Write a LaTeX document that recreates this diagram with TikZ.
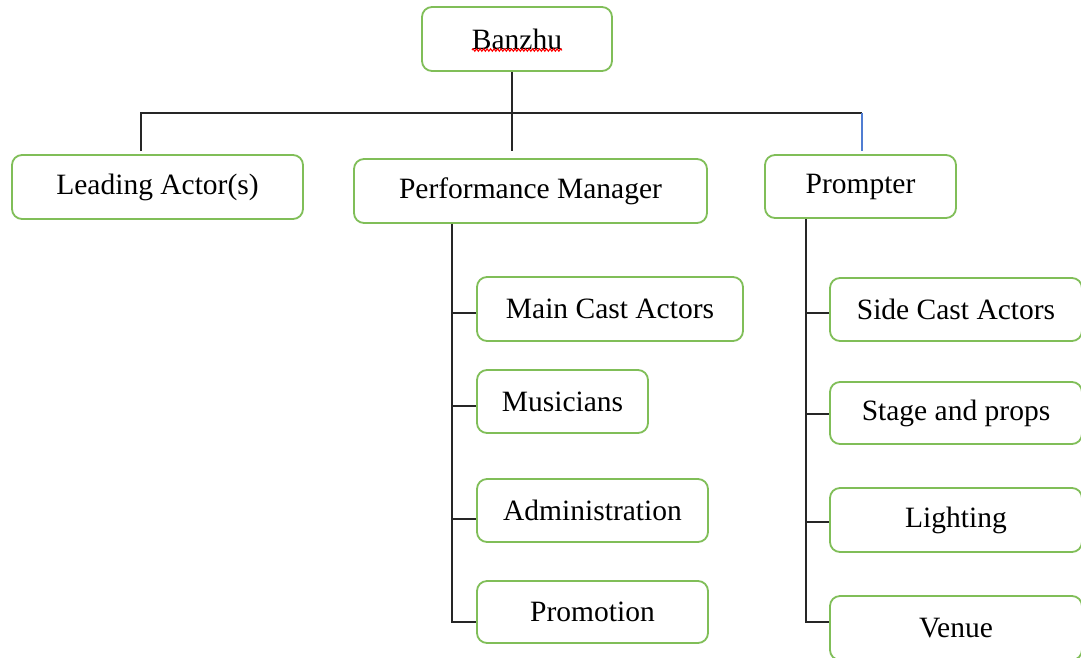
\documentclass[tikz,border=0pt]{standalone}
\usepackage{fontspec}
\setmainfont{Liberation Serif}
\usetikzlibrary{calc,decorations.pathmorphing}
\definecolor{boxgreen}{RGB}{128,190,88}
\definecolor{linkblue}{RGB}{80,125,210}
\tikzset{
  box/.style={draw=boxgreen, line width=1.8pt, rounded corners=10pt, fill=white,
    inner sep=0pt, font=\fontsize{29.5}{33}\selectfont},
  link/.style={draw=black!85, line width=1.5pt}
}
\begin{document}
\begin{tikzpicture}[x=1pt,y=-1pt]
\useasboundingbox (0,0) rectangle (1081,657);
\clip (0,0) rectangle (1081,657);
\fill[white] (0,0) rectangle (1081,657);

% top level
\node[box, minimum width=190pt, minimum height=64pt] (banzhu) at (517,39) {Banzhu};
\draw[red, line width=1.1pt, decorate, decoration={snake, amplitude=1.2pt, segment length=3.5pt}]
  ($(banzhu.center)+(-45,11)$) -- ($(banzhu.center)+(45,11)$);

% second level
\node[box, minimum width=291pt, minimum height=64pt] (lead) at (157.5,187) {Leading Actor(s)};
\node[box, minimum width=353pt, minimum height=64pt] (pm) at (530.5,191) {Performance Manager};
\node[box, minimum width=191pt, minimum height=63pt] (prompt) at (860.5,186.5) {Prompter};

% children of the performance manager
\node[box, minimum width=266pt, minimum height=64pt] (main) at (610,309) {Main Cast Actors};
\node[box, minimum width=171pt, minimum height=63pt] (mus) at (562.5,401.5) {Musicians};
\node[box, minimum width=231pt, minimum height=63pt] (admin) at (592.5,510.5) {Administration};
\node[box, minimum width=231pt, minimum height=62pt] (promo) at (592.5,612) {Promotion};

% children of the prompter
\node[box, minimum width=252pt, minimum height=63pt] (side) at (956,309.5) {Side Cast Actors};
\node[box, minimum width=252pt, minimum height=62pt] (stage) at (956,413) {Stage and props};
\node[box, minimum width=252pt, minimum height=64pt] (light) at (956,520) {Lighting};
\node[box, minimum width=252pt, minimum height=64pt] (venue) at (956,628) {Venue};

% top bus
\coordinate (busL) at (141,113);
\coordinate (busR) at (862,113);
\draw[link] (banzhu.south -| 512,0) -- ($(banzhu.south -| 512,0) + (0,79)$);
\draw[link] ($(busL |- lead.north)+(0,-3)$) -- (busL) -- (busR);
\draw[link, draw=linkblue] (busR) -- ($(busR |- prompt.north)+(0,-3)$);

% performance manager trunk
\coordinate (pmT) at ($(pm.south west)+(99,0)$);
\draw[link] (pmT) |- ($(promo.west)+(0,10)$);
\draw[link] (pmT |- main.west) ++(0,4) -- ($(main.west)+(0,4)$);
\draw[link] (pmT |- mus.west) ++(0,4.5) -- ($(mus.west)+(0,4.5)$);
\draw[link] (pmT |- admin.west) ++(0,8.5) -- ($(admin.west)+(0,8.5)$);

% prompter trunk
\coordinate (prT) at ($(prompt.south west)+(42,0)$);
\draw[link] (prT) |- ($(venue.west)+(0,-6)$);
\draw[link] (prT |- side.west) ++(0,3.5) -- ($(side.west)+(0,3.5)$);
\draw[link] (prT |- stage.west) ++(0,1) -- ($(stage.west)+(0,1)$);
\draw[link] (prT |- light.west) ++(0,2) -- ($(light.west)+(0,2)$);
\end{tikzpicture}
\end{document}
